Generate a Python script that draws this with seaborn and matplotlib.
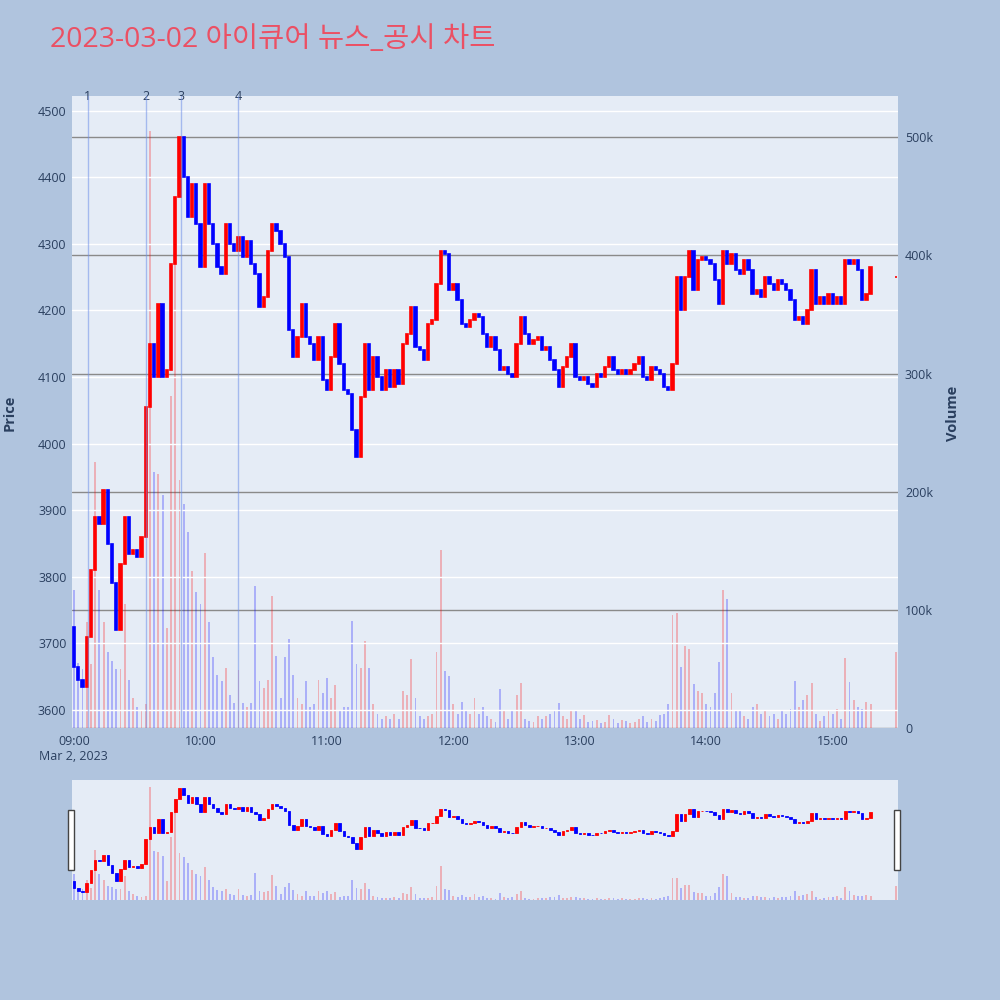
import numpy as np
import pandas as pd
import matplotlib
matplotlib.use('Agg')
import matplotlib.pyplot as plt
from matplotlib.patches import Rectangle
import seaborn as sns

# Titel und Daten (2-Minuten-Kerzen ab 09:00, Schlusskurs je Kerze)
title = '2023-03-02 아이큐어 뉴스_공시 차트'
first_open = 3725
closes = [
    3665, 3645, 3635, 3710, 3810, 3890, 3880, 3930, 3850, 3790,
    3720, 3820, 3890, 3835, 3840, 3830, 3860, 4055, 4150, 4100,
    4210, 4100, 4110, 4270, 4370, 4460, 4400, 4340, 4390, 4330,
    4265, 4390, 4330, 4300, 4265, 4255, 4330, 4300, 4290, 4310,
    4280, 4305, 4270, 4255, 4205, 4220, 4290, 4330, 4320, 4300,
    4280, 4170, 4130, 4160, 4210, 4160, 4150, 4125, 4160, 4095,
    4080, 4130, 4180, 4120, 4080, 4075, 4020, 3980, 4070, 4150,
    4080, 4130, 4100, 4080, 4110, 4085, 4110, 4090, 4150, 4165,
    4205, 4145, 4140, 4125, 4180, 4185, 4240, 4290, 4285, 4230,
    4240, 4215, 4180, 4175, 4185, 4195, 4190, 4165, 4145, 4160,
    4140, 4110, 4115, 4105, 4100, 4150, 4190, 4165, 4150, 4155,
    4160, 4140, 4145, 4125, 4110, 4085, 4115, 4130, 4150, 4100,
    4095, 4100, 4090, 4085, 4105, 4100, 4115, 4130, 4110, 4105,
    4110, 4105, 4110, 4120, 4130, 4100, 4095, 4115, 4110, 4105,
    4085, 4080, 4120, 4250, 4200, 4250, 4290, 4230, 4275, 4280,
    4275, 4270, 4245, 4210, 4290, 4270, 4285, 4260, 4255, 4275,
    4260, 4225, 4230, 4220, 4250, 4240, 4230, 4245, 4240, 4230,
    4215, 4185, 4190, 4180, 4200, 4260, 4210, 4220, 4210, 4225,
    4210, 4220, 4210, 4275, 4270, 4275, 4260, 4215, 4225, 4265,
]
# Volumen in Tausend
volumes_k = [
    117, 55, 50, 90, 54, 225, 117, 90, 64, 57,
    50, 50, 105, 41, 25, 18, 15, 20, 505, 217,
    215, 197, 85, 281, 394, 210, 190, 166, 133, 115,
    105, 148, 90, 60, 45, 40, 51, 28, 21, 49,
    21, 18, 21, 120, 40, 34, 41, 112, 61, 25,
    60, 75, 45, 25, 20, 40, 18, 20, 41, 30,
    42, 25, 36, 15, 18, 18, 91, 54, 51, 74,
    51, 20, 12, 8, 10, 8, 12, 8, 31, 28,
    58, 25, 10, 8, 10, 12, 64, 151, 48, 44,
    20, 12, 22, 15, 12, 25, 12, 18, 10, 8,
    5, 33, 15, 8, 15, 28, 38, 8, 6, 5,
    10, 8, 10, 12, 14, 21, 10, 8, 15, 15,
    8, 11, 5, 6, 7, 4, 5, 11, 8, 4,
    7, 6, 4, 5, 8, 10, 5, 8, 6, 11,
    12, 20, 96, 97, 52, 69, 67, 37, 31, 30,
    20, 18, 30, 56, 117, 109, 30, 15, 14, 10,
    8, 18, 20, 12, 14, 10, 12, 8, 14, 12,
    16, 40, 18, 24, 28, 38, 12, 6, 10, 14,
    12, 16, 8, 59, 39, 24, 18, 16, 22, 20,
]
# Schlusskurs-Auktion 15:30
auction_minute = 390
auction_price = 4250
auction_volume_k = 64

# News-Zeitpunkte (Minuten nach 09:00)
news_minutes = [6.5, 34, 50.5, 78]
news_labels = ['1', '2', '3', '4']

hour_ticks = [0, 60, 120, 180, 240, 300, 360]
hour_labels = ['09:00', '10:00', '11:00', '12:00', '13:00', '14:00', '15:00']
price_ticks = [3600, 3700, 3800, 3900, 4000, 4100, 4200, 4300, 4400, 4500]
vol_ticks = [0, 100000, 200000, 300000, 400000, 500000]
vol_labels = ['0', '100k', '200k', '300k', '400k', '500k']

minutes = list(range(0, 2 * len(closes), 2)) + [auction_minute]
close_all = closes + [auction_price]
open_all = [first_open] + closes[:-1] + [auction_price]
df = pd.DataFrame({'minute': minutes, 'open': open_all, 'close': close_all,
                   'volume': [v * 1000 for v in volumes_k + [auction_volume_k]]})
df['dir'] = np.where(df['close'] >= df['open'], 'up', 'down')
cmap = {'up': '#FF0000', 'down': '#0000FF'}
df['color'] = df['dir'].map(cmap)

sns.set_theme(style='white')
plt.rcParams['font.family'] = ['Open Sans', 'Noto Sans CJK KR', 'DejaVu Sans']

txt = '#2a3f5f'
bg = '#E5ECF6'
fig = plt.figure(figsize=(10, 10), dpi=100, facecolor='#B0C4DE')

# Hauptchart: Preis links, Volumen rechts
ax_p = fig.add_axes([0.072, 0.272, 0.826, 0.632])
ax_v = ax_p.twinx()
ax_v.set_zorder(0)
ax_p.set_zorder(1)
ax_p.patch.set_visible(False)
ax_v.patch.set_visible(True)
ax_v.patch.set_facecolor(bg)

sns.histplot(data=df, x='minute', weights='volume', hue='dir', hue_order=['up', 'down'],
             palette=cmap, binwidth=2, binrange=(-1, 391), shrink=0.45, alpha=0.25,
             linewidth=0, legend=False, ax=ax_v)
ax_v.set_ylim(0, 535000)
ax_v.set_yticks(vol_ticks, vol_labels)
ax_v.grid(axis='y', color='#8a8a8a', lw=1)
ax_v.grid(axis='x', visible=False)
ax_v.set_ylabel('')
ax_v.tick_params(axis='y', length=0, labelsize=9, labelcolor=txt, pad=5)

ax_p.bar(df['minute'], df['close'] - df['open'], bottom=df['open'], width=1.1,
         color=df['color'], edgecolor=df['color'], linewidth=1.2, zorder=3)
for m, lab in zip(news_minutes, news_labels):
    ax_p.axvline(m, color='#6F8FE8', alpha=0.55, lw=1, zorder=4)
    ax_p.text(m, 1.0, lab, transform=ax_p.get_xaxis_transform(), ha='center', va='center',
              fontsize=9, color=txt)
ax_p.set_xlim(-1, 391)
ax_p.set_ylim(3573, 4522)
ax_p.set_yticks(price_ticks)
ax_p.set_xticks(hour_ticks, hour_labels)
ax_p.grid(axis='y', color='white', lw=1, zorder=0)
ax_p.grid(axis='x', visible=False)
ax_p.tick_params(length=0, labelsize=9, labelcolor=txt)
ax_p.tick_params(axis='x', pad=5)
ax_p.tick_params(axis='y', pad=4)
for a in (ax_p, ax_v):
    for s in a.spines.values():
        s.set_visible(False)

# Beschriftungen
fig.text(0.05, 0.96, title, fontsize=20.5, color='#EB5064', va='center', ha='left')
fig.text(0.010, 0.587, 'Price', rotation=90, va='center', ha='center',
         fontsize=10.5, fontweight='bold', color=txt)
fig.text(0.953, 0.587, 'Volume', rotation=90, va='center', ha='center',
         fontsize=10.5, fontweight='bold', color=txt)
fig.text(0.073, 0.243, 'Mar 2, 2023', va='center', ha='center', fontsize=9, color=txt)

# Range-Slider unten
ax_s = fig.add_axes([0.072, 0.10, 0.826, 0.12])
ax_s.set_facecolor(bg)
sns.histplot(data=df, x='minute', weights='volume', hue='dir', hue_order=['up', 'down'],
             palette=cmap, binwidth=2, binrange=(-1, 391), shrink=0.45, alpha=0.25,
             linewidth=0, legend=False, ax=ax_s)
ax_s.set_ylim(0, 535000)
ax_s2 = ax_s.twinx()
ax_s2.bar(df['minute'], df['close'] - df['open'], bottom=df['open'], width=1.2,
          color=df['color'], edgecolor=df['color'], linewidth=0.6)
ax_s2.set_ylim(3573, 4522)
for a in (ax_s, ax_s2):
    a.set_xlim(-1, 391)
    a.set_xticks([])
    a.set_yticks([])
    a.set_xlabel('')
    a.set_ylabel('')
    for s in a.spines.values():
        s.set_visible(False)
for xh in (0.068, 0.894):
    fig.add_artist(Rectangle((xh, 0.13), 0.006, 0.06, transform=fig.transFigure,
                             facecolor='white', edgecolor='#444444', lw=1))

plt.savefig('out.png', dpi=100, facecolor=fig.get_facecolor())
plt.close()
